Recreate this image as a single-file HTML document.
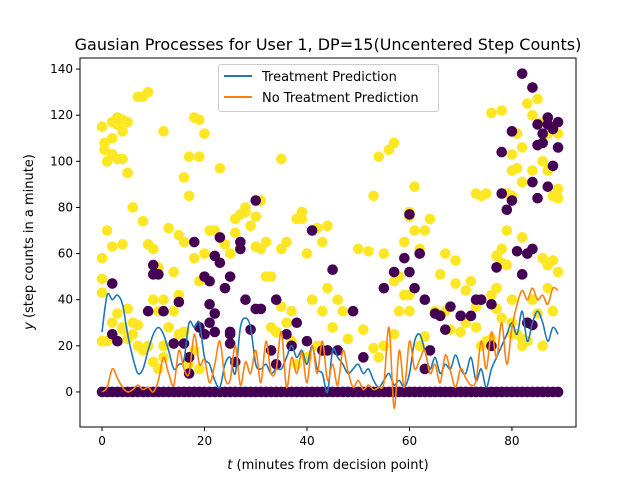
<!DOCTYPE html>
<html><head><meta charset="utf-8"><style>
body{margin:0;background:#fff;}
svg{font-family:"DejaVu Sans","Liberation Sans",sans-serif;}
</style></head><body>
<svg id="chart" width="640" height="480" xmlns="http://www.w3.org/2000/svg">
<rect width="640" height="480" fill="#fff"/>
<text x="328" y="50" text-anchor="middle" font-size="16">Gausian Processes for User 1, DP=15(Uncentered Step Counts)</text>
<g id="marks"></g>
<g id="axes"></g>
</svg>
<script>
const yellowX=[0,0.5,0.5,1,1,0,0,0,0,1,2,3,3,4,5,4,2,2,3,4,5,4,2,2,3,4,5,6,7,6,8,7,8,9,9,10,10,11,12,11,12,13,13,14,15,15,16,17,16,17,18,19,20,19,16,18,20,19,18,17,19,14,15,12,9,11,8,6,5,4,3,7,10,12,
21,22,23,24,25,26,26,27,28,28,29,30,30,31,32,32,31,33,35,35,36,37,37,38,39,39,36,38,40,40,41,42,43,44,45,46,47,48,50,51,53,53,54,55,56,57,57,58,58,59,60,60,60,61,61,62,62,63,62,59,55,44,33,34,35,42,43,52,54,57,60,
63,64,65,66,67,68,69,70,71,72,73,74,75,76,77,77,78,76,78,79,80,80,81,82,82,83,84,85,86,87,88,89,89,89,88,86,87,84,82,81,80,79,78,77,78,79,80,81,80,82,83,85,86,87,88,89,88,87,86,84,82,80,67,69,71,73,74,75,76,73];
const yellowY=[115,108,105,100,70,58,49,43,22,22,117,119,116,118,117,113,110,103,101,101,95,64,63,30,34,28,36,30,29,80,74,128,128,130,64,62,40,35,40,54,113,71,28,35,68,42,26,102,93,85,119,118,112,102,65,58,60,48,18,12,10,52,25,15,20,10,18,25,23,27,22,20,13,20,
70,70,97,64,60,69,75,77,78,80,72,76,63,62,65,50,83,50,101,62,30,35,22,75,78,75,65,12,60,15,40,71,65,45,28,40,35,23,62,27,85,19,102,20,105,108,48,50,35,65,42,76,78,89,70,60,62,24,20,42,60,72,28,26,37,20,35,61,15,25,35,
70,75,35,51,35,27,47,26,30,48,86,85,86,42,45,36,32,121,122,86,96,103,97,91,67,125,120,127,117,112,115,112,88,84,85,100,96,96,106,112,85,70,62,59,56,55,30,25,25,23,22,34,20,45,35,52,57,55,58,40,20,40,60,57,44,37,20,22,23,28];
const purpleX=[2,2,3,10,10,11,9,12,14,15,16,17,18,19,20,21,21,22,22,23,23,24,25,25,25,27,27,28,29,30,30,31,33,34,34,20,21,22,17,25,26,
36,37,38,40,41,43,44,45,46,49,51,55,57,59,60,61,60,62,63,63,65,64,66,67,68,70,72,73,74,76,76,77,78,80,78,79,80,81,82,82,83,84,85,84,86,86,87,87,88,89,85,85,87,88,89,84,83,84];
const purpleY=[47,25,22,55,51,51,35,35,21,39,21,15,65,28,50,48,38,59,34,67,56,45,50,25,26,65,62,40,27,83,36,36,18,40,12,25,30,26,8,21,13,
25,20,30,22,70,18,18,53,18,35,15,45,52,58,52,45,77,60,40,10,34,18,33,27,37,33,33,40,40,20,38,54,104,113,86,79,83,61,51,138,30,132,116,91,112,108,119,116,114,117,84,107,89,98,106,62,60,29];
const treatY=[26,42,40,42,38,25,15,8,10,18,25,28,25,18,10,12,14,30,28,30,15,12,5,2,12,15,8,28,32,28,12,10,12,8,10,10,15,20,15,18,12,20,10,8,0,18,15,12,8,10,12,8,10,5,2,5,8,3,5,2,8,22,25,18,10,15,8,12,10,16,10,8,15,5,10,2,10,15,20,25,30,25,35,22,30,35,30,22,28,25];
const noTreatY=[0,2,10,6,2,0,1,3,1,2,0,5,15,8,3,18,10,8,25,12,14,4,12,22,6,5,20,3,13,8,18,4,22,8,10,26,2,15,8,17,4,20,8,22,5,12,3,18,9,2,5,1,3,1,2,4,28,-7,18,2,22,10,14,18,8,12,4,16,9,2,10,6,3,5,22,10,26,15,30,12,28,38,44,40,45,40,42,38,45,44];
const xTicks=[0,20,40,60,80];
const yTicks=[0,20,40,60,80,100,120,140];

const L=80,R=576,T=58,B=427,xmin=-4.3,xmax=92.5,ymin=-15.2,ymax=144.8;
const sx=v=>L+(v-xmin)/(xmax-xmin)*(R-L);
const sy=v=>B-(v-ymin)/(ymax-ymin)*(B-T);
const NS="http://www.w3.org/2000/svg";
const marks=document.getElementById('marks'),axes=document.getElementById('axes');
function mk(tag,attrs,parent){const e=document.createElementNS(NS,tag);for(const k in attrs)e.setAttribute(k,attrs[k]);parent.appendChild(e);return e;}
const clip=mk('clipPath',{id:'pc'},marks);mk('rect',{x:L,y:T,width:R-L,height:B-T},clip);
const g=mk('g',{'clip-path':'url(#pc)'},marks);
for(let i=0;i<yellowX.length;i++){const c=mk('circle',{cx:sx(yellowX[i]),cy:sy(yellowY[i]),r:5.3,fill:'#fde725'},g);

}
for(let i=0;i<purpleX.length;i++){const c=mk('circle',{cx:sx(purpleX[i]),cy:sy(purpleY[i]),r:5.3,fill:'#440154'},g);

}
for(let i=0;i<treatY.length;i++){const c=mk('circle',{cx:sx(i),cy:sy(0),r:5.3,fill:'#440154'},g);

}
function line(arr,color,name){
const P=arr.map((v,i)=>[sx(i),sy(v)]);
let d='M'+P[0][0].toFixed(1)+','+P[0][1].toFixed(1);
for(let i=0;i<P.length-1;i++){const p0=P[Math.max(0,i-1)],p1=P[i],p2=P[i+1],p3=P[Math.min(P.length-1,i+2)];
const c1=[p1[0]+(p2[0]-p0[0])/6,p1[1]+(p2[1]-p0[1])/6],c2=[p2[0]-(p3[0]-p1[0])/6,p2[1]-(p3[1]-p1[1])/6];
d+='C'+c1[0].toFixed(1)+','+c1[1].toFixed(1)+' '+c2[0].toFixed(1)+','+c2[1].toFixed(1)+' '+p2[0].toFixed(1)+','+p2[1].toFixed(1);}
const p=mk('path',{d:d,fill:'none',stroke:color,'stroke-width':1.6,'stroke-linejoin':'round'},g);

}
line(treatY,'#1f77b4','treatment-line');
line(noTreatY,'#ff7f0e','no-treatment-line');
const frame=mk('rect',{x:L,y:T,width:R-L,height:B-T,fill:'none',stroke:'#000','stroke-width':1},axes);


xTicks.forEach(t=>{mk('line',{x1:sx(t),x2:sx(t),y1:B,y2:B+4,stroke:'#000'},axes);
const tx=mk('text',{x:sx(t),y:B+18,'text-anchor':'middle','font-size':12},axes);tx.textContent=t;

});
yTicks.forEach(t=>{mk('line',{x1:L-4,x2:L,y1:sy(t),y2:sy(t),stroke:'#000'},axes);
const tx=mk('text',{x:L-7,y:sy(t)+4,'text-anchor':'end','font-size':12},axes);tx.textContent=t;

});
</script>
<svg style="position:absolute;left:0;top:0" width="640" height="480" xmlns="http://www.w3.org/2000/svg" font-family="DejaVu Sans, Liberation Sans, sans-serif">
<text x="328" y="469" text-anchor="middle" font-size="13"><tspan font-style="italic">t</tspan> (minutes from decision point)</text>
<text transform="translate(33,242) rotate(-90)" text-anchor="middle" font-size="13"><tspan font-style="italic">y</tspan> (step counts in a minute)</text>
<g>
<rect x="218.5" y="64.5" width="220" height="47" rx="3" fill="#fff" fill-opacity="0.85" stroke="#ccc"/>
<line x1="224" y1="76" x2="252" y2="76" stroke="#1f77b4" stroke-width="2"/>
<text x="262" y="81" font-size="13">Treatment Prediction</text>
<line x1="224" y1="97" x2="252" y2="97" stroke="#ff7f0e" stroke-width="2"/>
<text x="262" y="102" font-size="13">No Treatment Prediction</text>
</g>
</svg>
</body></html>
